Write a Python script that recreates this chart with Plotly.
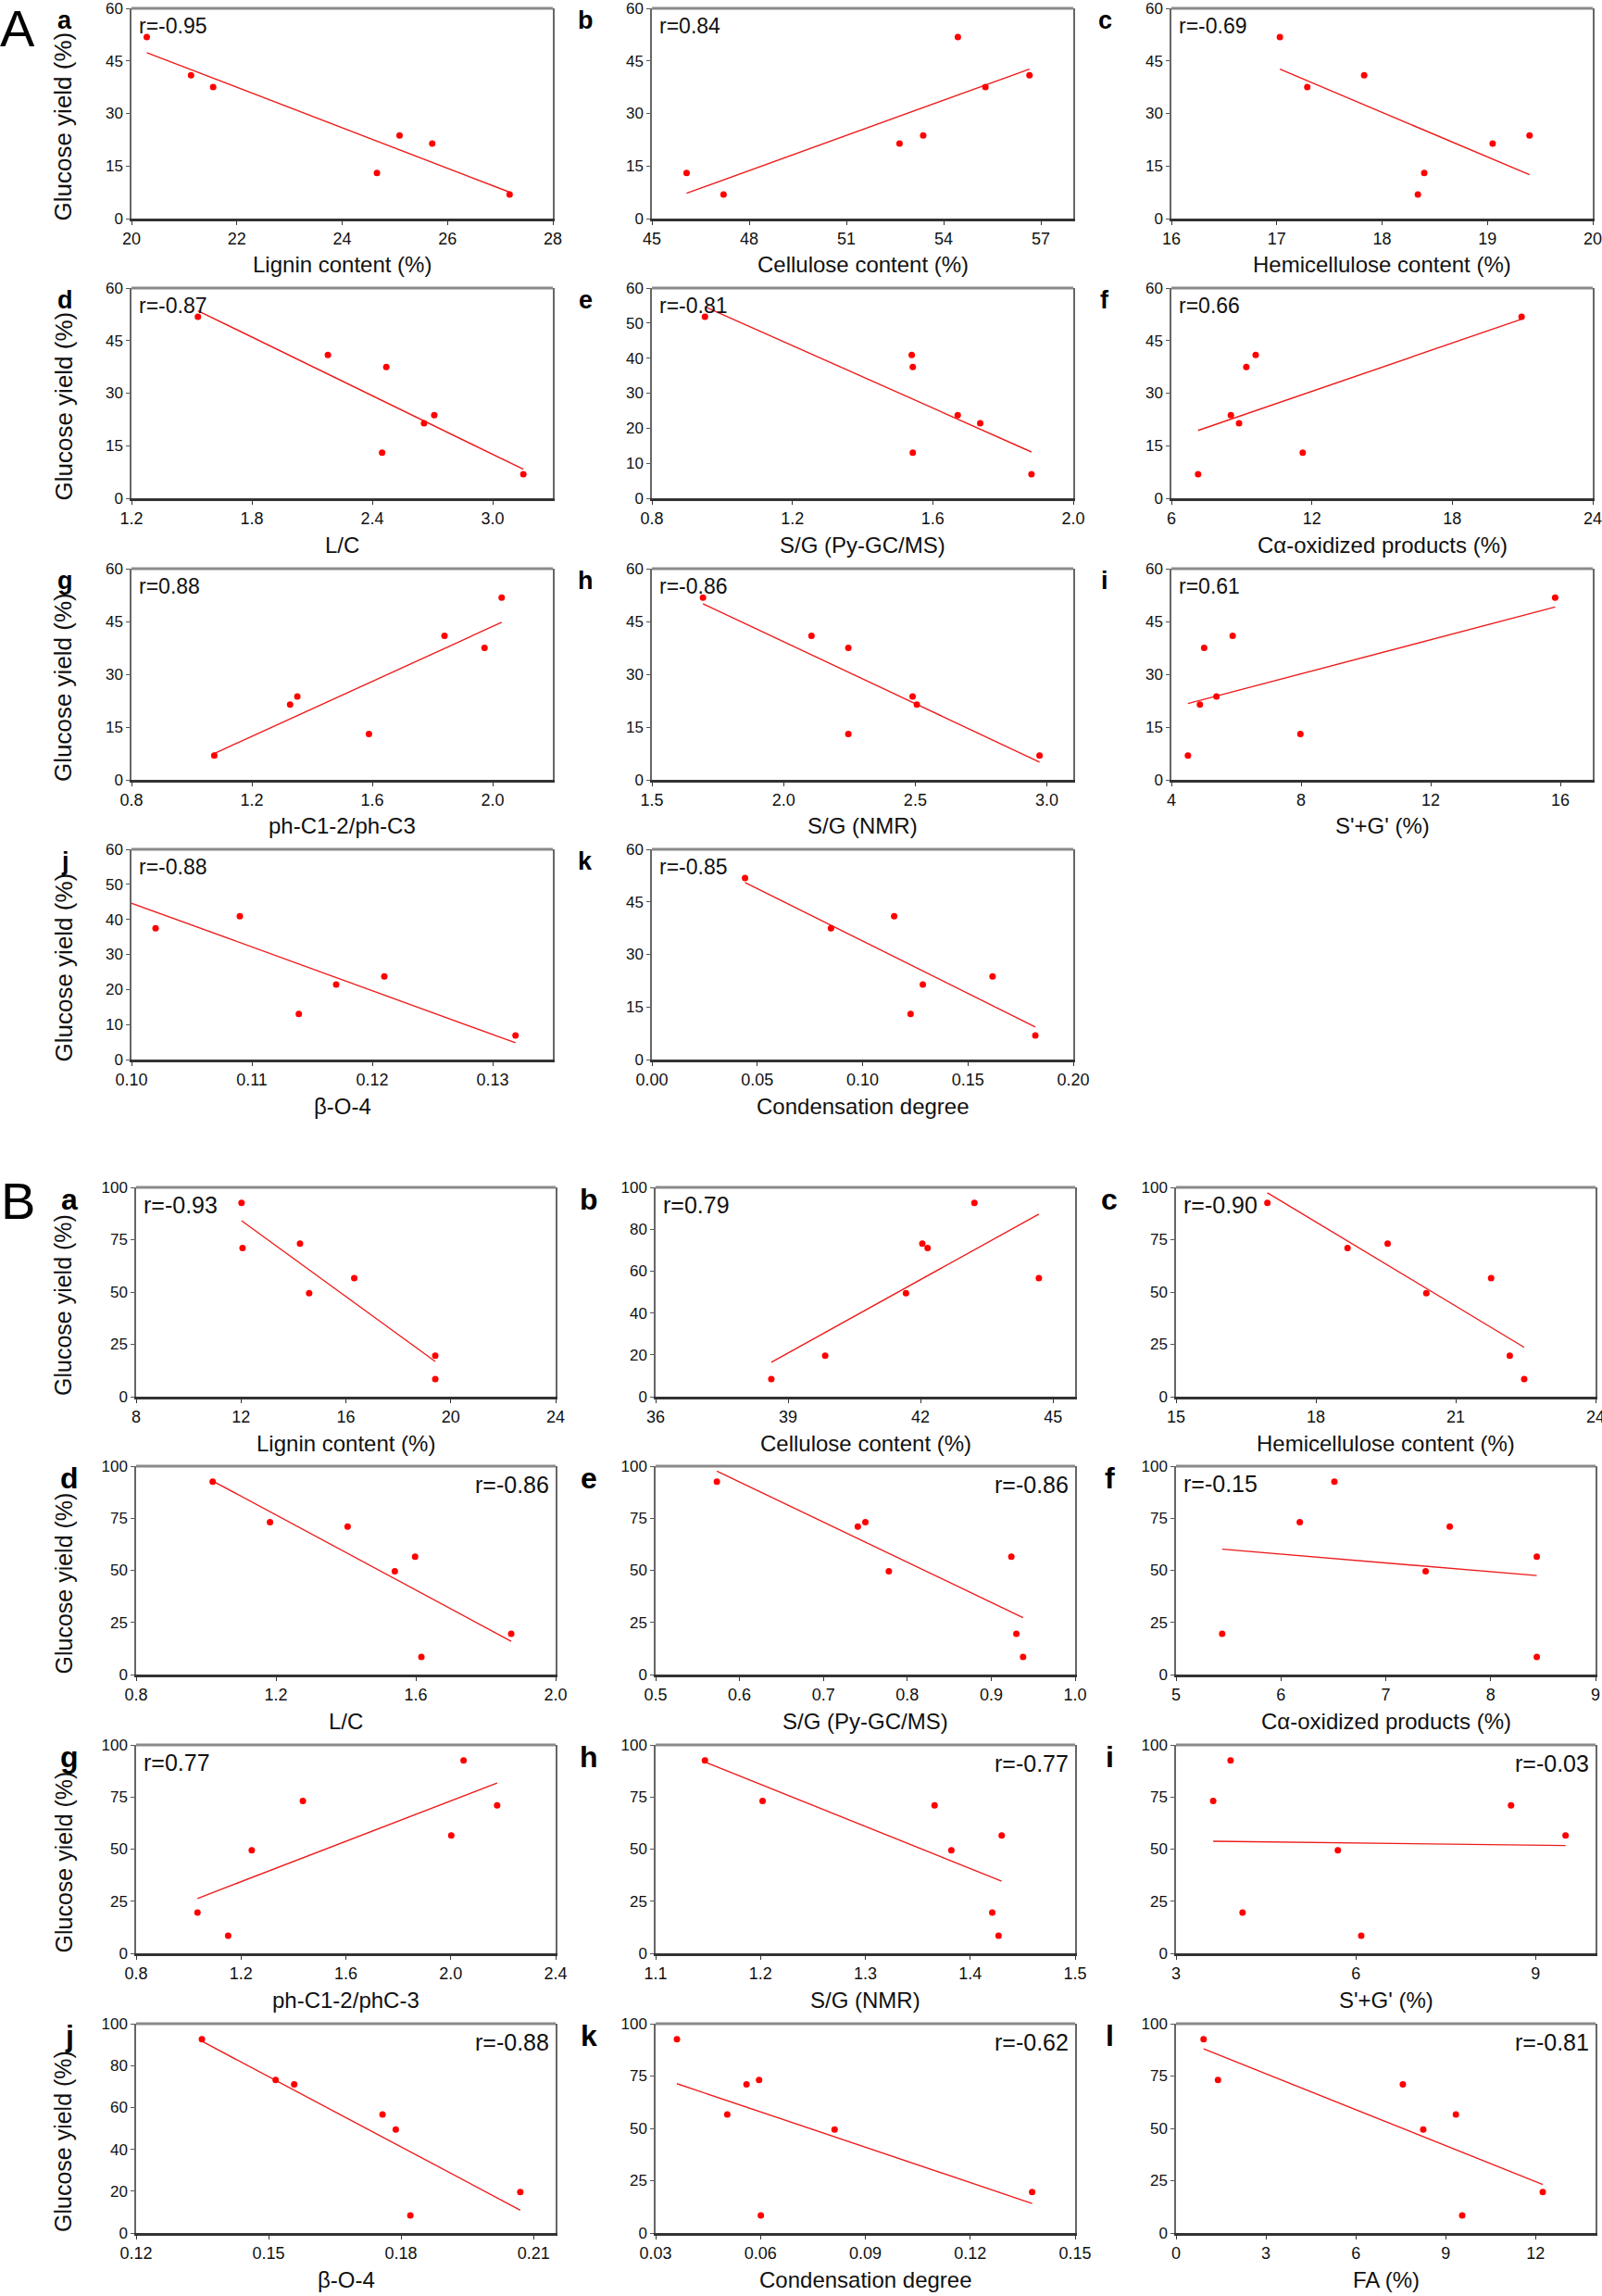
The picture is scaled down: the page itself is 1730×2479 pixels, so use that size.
import numpy as np
import plotly.graph_objects as go

# ---------------- DATA ----------------
# Section A samples (ordered by glucose yield)
A_yield = [51.8, 40.9, 37.5, 23.7, 21.4, 13.0, 6.9]
A_lignin = [20.29, 21.13, 21.55, 25.09, 25.71, 24.66, 27.18]
A_cellulose = [54.44, 56.65, 55.29, 53.37, 52.64, 46.07, 47.21]
A_hemicellulose = [17.03, 17.83, 17.29, 19.40, 19.05, 18.40, 18.34]
A_LC = [1.531, 2.179, 2.470, 2.709, 2.658, 2.449, 3.153]
A_SG_py = [0.951, 1.540, 1.543, 1.671, 1.735, 1.543, 1.881]
A_Calpha = [20.96, 9.60, 9.20, 8.54, 8.89, 11.61, 7.14]
A_ph = [2.030, 1.840, 1.973, 1.351, 1.327, 1.589, 1.075]
A_SG_nmr = [1.694, 2.106, 2.246, 2.490, 2.506, 2.246, 2.972]
A_SpGp = [15.84, 5.89, 5.01, 5.39, 4.88, 7.98, 4.51]
A_bO4 = [0.099, 0.109, 0.102, 0.121, 0.117, 0.1139, 0.1319]
A_cond = [0.0442, 0.1150, 0.0850, 0.1617, 0.1286, 0.1228, 0.1820]

# Section B samples (ordered by glucose yield)
B_yield = [92.6, 73.1, 71.0, 56.6, 49.5, 19.6, 8.4]
B_lignin = [12.02, 14.25, 12.06, 16.32, 14.60, 19.41, 19.41]
B_cellulose = [43.22, 42.04, 42.16, 44.68, 41.67, 39.84, 38.62]
B_hemicellulose = [16.96, 19.54, 18.68, 21.76, 20.37, 22.16, 22.47]
B_LC = [1.019, 1.183, 1.405, 1.598, 1.540, 1.873, 1.616]
B_SG_py = [0.573, 0.750, 0.741, 0.924, 0.778, 0.930, 0.938]
B_Calpha = [6.51, 6.18, 7.61, 8.44, 7.38, 5.44, 8.44]
B_ph = [2.049, 1.436, 2.177, 2.002, 1.241, 1.034, 1.151]
B_SG_nmr = [1.147, 1.202, 1.366, 1.430, 1.382, 1.421, 1.427]
B_SpGp = [3.91, 3.62, 8.59, 9.50, 5.70, 4.11, 6.09]
B_bO4 = [0.1349, 0.1516, 0.1558, 0.1758, 0.1788, 0.2070, 0.1821]
B_cond = [0.0361, 0.0596, 0.0560, 0.0505, 0.0812, 0.1377, 0.0601]
B_FA = [0.92, 1.40, 7.57, 9.34, 8.25, 12.24, 9.55]

A_r = ["r=-0.95", "r=0.84", "r=-0.69", "r=-0.87", "r=-0.81", "r=0.66",
       "r=0.88", "r=-0.86", "r=0.61", "r=-0.88", "r=-0.85"]
B_r = ["r=-0.93", "r=0.79", "r=-0.90", "r=-0.86", "r=-0.86", "r=-0.15",
       "r=0.77", "r=-0.77", "r=-0.03", "r=-0.88", "r=-0.62", "r=-0.81"]

A_xtitles = ["Lignin content (%)", "Cellulose content (%)", "Hemicellulose content (%)",
             "L/C", "S/G (Py-GC/MS)", "Cα-oxidized products (%)",
             "ph-C1-2/ph-C3", "S/G (NMR)", "S'+G' (%)",
             "β-O-4", "Condensation degree"]
B_xtitles = ["Lignin content (%)", "Cellulose content (%)", "Hemicellulose content (%)",
             "L/C", "S/G (Py-GC/MS)", "Cα-oxidized products (%)",
             "ph-C1-2/phC-3", "S/G (NMR)", "S'+G' (%)",
             "β-O-4", "Condensation degree", "FA (%)"]
letters = list("abcdefghijkl")

A_x = [A_lignin, A_cellulose, A_hemicellulose, A_LC, A_SG_py, A_Calpha,
       A_ph, A_SG_nmr, A_SpGp, A_bO4, A_cond]
B_x = [B_lignin, B_cellulose, B_hemicellulose, B_LC, B_SG_py, B_Calpha,
       B_ph, B_SG_nmr, B_SpGp, B_bO4, B_cond, B_FA]

# axis settings: (xmin, xmax, dtick, format)
A_xaxes = [(20, 28, 2, "d"), (45, 58, 3, "d"), (16, 20, 1, "d"),
           (1.2, 3.3, 0.6, ".1f"), (0.8, 2.0, 0.4, ".1f"), (6, 24, 6, "d"),
           (0.8, 2.2, 0.4, ".1f"), (1.5, 3.1, 0.5, ".1f"), (4, 17, 4, "d"),
           (0.10, 0.135, 0.01, ".2f"), (0.0, 0.20, 0.05, ".2f")]
A_ydt = [15, 15, 15, 15, 10, 15, 15, 15, 15, 10, 15]
B_xaxes = [(8, 24, 4, "d"), (36, 45.5, 3, "d"), (15, 24, 3, "d"),
           (0.8, 2.0, 0.4, ".1f"), (0.5, 1.0, 0.1, ".1f"), (5, 9, 1, "d"),
           (0.8, 2.4, 0.4, ".1f"), (1.1, 1.5, 0.1, ".1f"), (3, 10, 3, "d"),
           (0.12, 0.215, 0.03, ".2f"), (0.03, 0.15, 0.03, ".2f"), (0, 14, 3, "d")]
B_ydt = [25, 20, 25, 25, 25, 25, 25, 25, 25, 20, 25, 25]
B_rside = ["l", "l", "l", "r", "r", "l", "l", "r", "r", "r", "r", "r"]

# ---------------- LAYOUT (pixels, page coordinates) ----------------
W, H = 1730, 2479
A_cols = [142, 704, 1265]
B_cols = [147, 708, 1270]
A_w, B_w = 455, 453
A_rows = [(9, 236), (311, 538), (614, 842), (917, 1144)]
B_rows = [(1282, 1508), (1583, 1808), (1884, 2109), (2185, 2411)]

FONT = "Arial, Liberation Sans, sans-serif"

def px(x):
    return x / W

def py(y):
    return 1 - y / H

fig = go.Figure()
layout = {}
annotations = []
shapes = []

panels = []
for i in range(11):
    r, c = divmod(i, 3)
    panels.append(dict(sec="A", idx=i, x=A_x[i], y=A_yield, ax=A_xaxes[i], ymax=60,
                       ydt=A_ydt[i], left=A_cols[c], w=A_w, top=A_rows[r][0],
                       bot=A_rows[r][1], col=c, rtext=A_r[i], rside="l",
                       xt=A_xtitles[i], rsize=23, lsize=27, ysize=26))
for i in range(12):
    r, c = divmod(i, 3)
    panels.append(dict(sec="B", idx=i, x=B_x[i], y=B_yield, ax=B_xaxes[i], ymax=100,
                       ydt=B_ydt[i], left=B_cols[c], w=B_w, top=B_rows[r][0],
                       bot=B_rows[r][1], col=c, rtext=B_r[i], rside=B_rside[i],
                       xt=B_xtitles[i], rsize=25, lsize=32, ysize=25))

for n, p in enumerate(panels, start=1):
    sx = "" if n == 1 else str(n)
    xa, ya = "x" + sx, "y" + sx
    x = np.array(p["x"], dtype=float)
    y = np.array(p["y"], dtype=float)
    slope, icpt = np.polyfit(x, y, 1)
    xl = np.array([x.min(), x.max()])
    fig.add_trace(go.Scatter(x=xl, y=slope * xl + icpt, mode="lines",
                             line=dict(color="#ee1c1c", width=1.4),
                             xaxis=xa, yaxis=ya, showlegend=False, hoverinfo="skip"))
    fig.add_trace(go.Scatter(x=x, y=y, mode="markers",
                             marker=dict(color="#ff0000", size=7),
                             xaxis=xa, yaxis=ya, showlegend=False))
    xmin, xmax, dt, fmt = p["ax"]
    left, right = p["left"], p["left"] + p["w"]
    top, bot = p["top"], p["bot"]
    layout["xaxis" + sx] = dict(domain=[px(left), px(right)], anchor=ya, automargin=False,
                                range=[xmin, xmax], tickmode="linear", tick0=xmin, dtick=dt,
                                tickformat=fmt, showline=True, linecolor="#333",
                                linewidth=2.5, ticks="outside", ticklen=4, tickcolor="#333",
                                showgrid=False, zeroline=False, ticklabeloverflow="allow",
                                tickfont=dict(family=FONT, size=18, color="#111"))
    layout["yaxis" + sx] = dict(domain=[py(bot), py(top)], anchor=xa, automargin=False,
                                range=[0, p["ymax"]], tickmode="linear", tick0=0,
                                dtick=p["ydt"], showline=True, mirror=True,
                                linecolor="#666", linewidth=1.5, ticks="outside",
                                ticklen=4, tickcolor="#555", showgrid=False, zeroline=False,
                                ticklabeloverflow="allow",
                                tickfont=dict(family=FONT, size=17, color="#111"))
    shapes.append(dict(type="line", xref=xa + " domain", yref=ya + " domain",
                       x0=0, x1=1, y0=1, y1=1, line=dict(color="#8a8a8a", width=3)))
    # r label
    if p["rside"] == "l":
        annotations.append(dict(x=px(left + 6), y=py(top + 19), xref="paper", yref="paper",
                                text=p["rtext"], showarrow=False, xanchor="left",
                                yanchor="middle", font=dict(family=FONT, size=p["rsize"], color="#111")))
    else:
        annotations.append(dict(x=px(right - 5), y=py(top + 20), xref="paper", yref="paper",
                                text=p["rtext"], showarrow=False, xanchor="right",
                                yanchor="middle", font=dict(family=FONT, size=p["rsize"], color="#111")))
    # panel letter
    annotations.append(dict(x=px(left - 72), y=py(top + 13), xref="paper", yref="paper",
                            text="<b>" + letters[p["idx"]] + "</b>", showarrow=False,
                            xanchor="center", yanchor="middle",
                            font=dict(family=FONT, size=p["lsize"], color="#000")))
    # x title
    annotations.append(dict(x=px((left + right) / 2), y=py(bot + 50), xref="paper", yref="paper",
                            text=p["xt"], showarrow=False, xanchor="center", yanchor="middle",
                            font=dict(family=FONT, size=24, color="#111")))
    # y title (first column)
    if p["col"] == 0:
        annotations.append(dict(x=px(68), y=py((top + bot) / 2 + 14), xref="paper", yref="paper",
                                text="Glucose yield (%)", textangle=-90, showarrow=False,
                                xanchor="center", yanchor="middle",
                                font=dict(family=FONT, size=p["ysize"], color="#111")))

# section letters
annotations.append(dict(x=px(19), y=py(30), xref="paper", yref="paper", text="A",
                        showarrow=False, xanchor="center", yanchor="middle",
                        font=dict(family=FONT, size=56, color="#000")))
annotations.append(dict(x=px(19), y=py(1296), xref="paper", yref="paper", text="B",
                        showarrow=False, xanchor="center", yanchor="middle",
                        font=dict(family=FONT, size=56, color="#000")))

fig.update_layout(**layout)
fig.update_layout(width=W, height=H, margin=dict(l=0, r=0, t=0, b=0, autoexpand=False),
                  paper_bgcolor="white", plot_bgcolor="white",
                  annotations=annotations, shapes=shapes,
                  font=dict(family=FONT))
fig.write_html("out.html", config={"displayModeBar": False},
               post_script="document.body.style.margin='0';document.body.style.overflow='hidden';")
